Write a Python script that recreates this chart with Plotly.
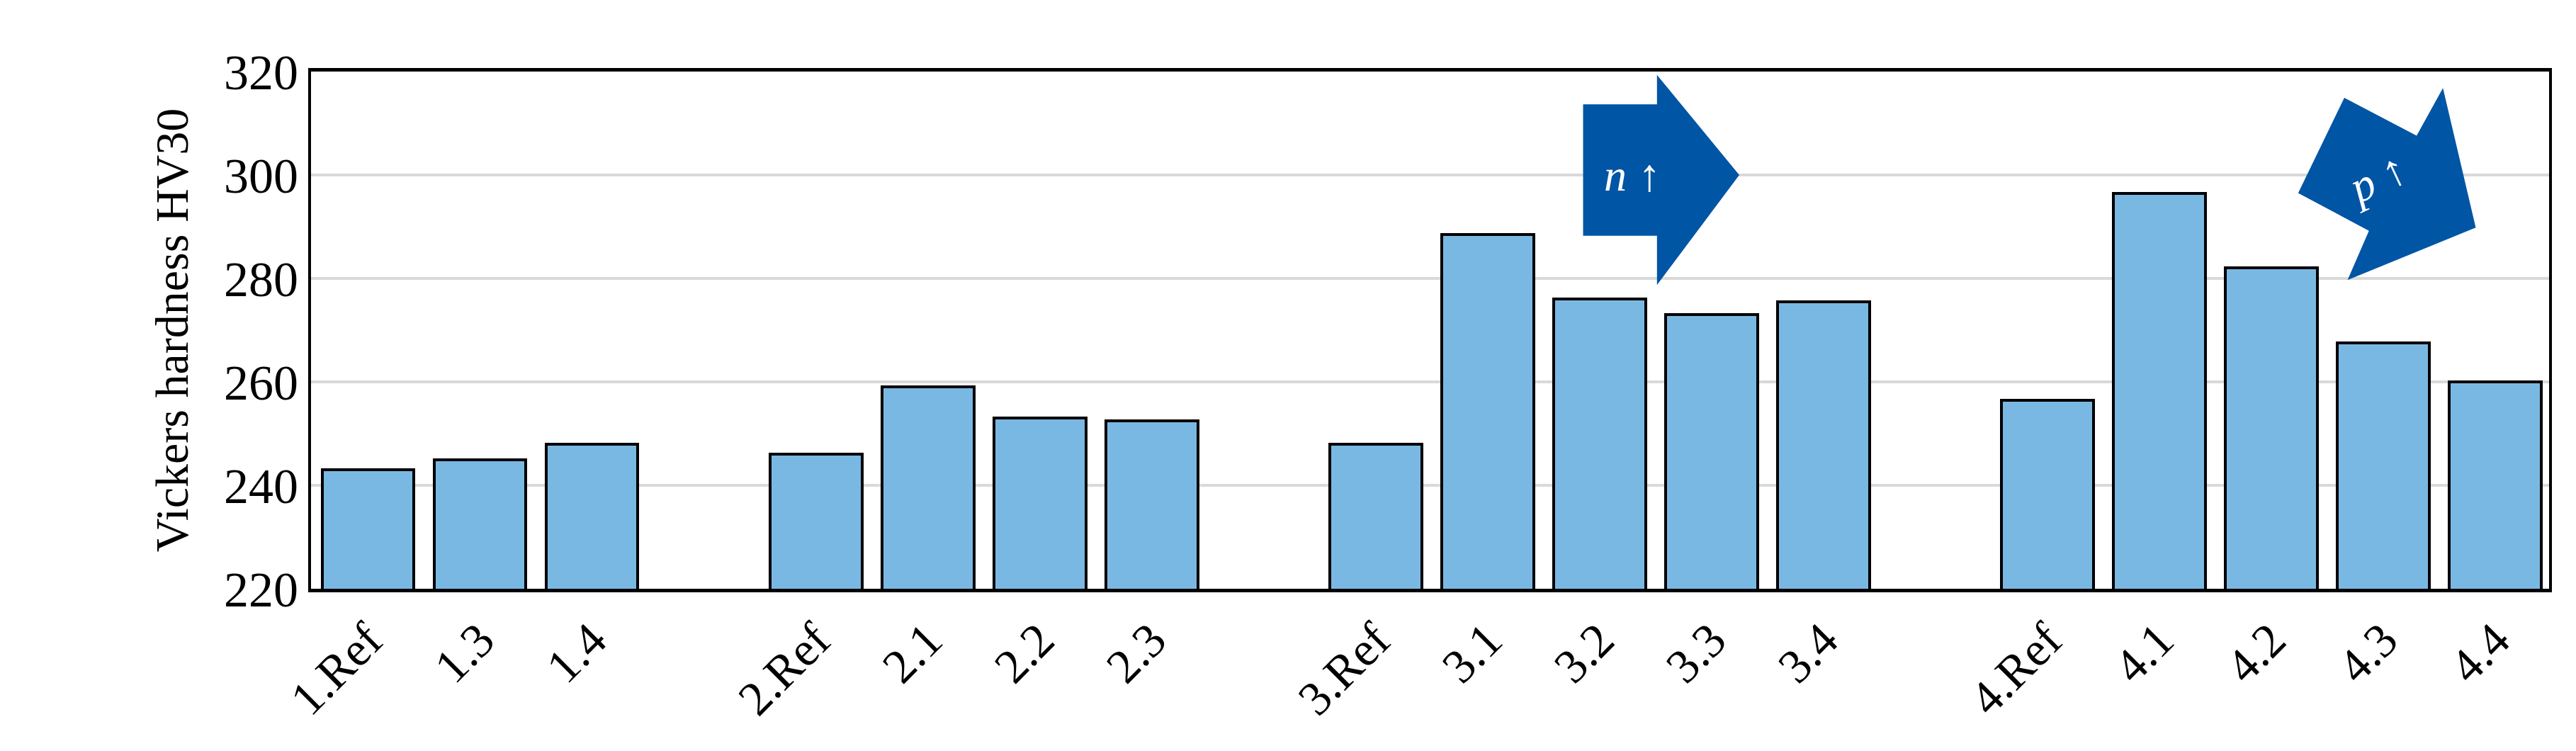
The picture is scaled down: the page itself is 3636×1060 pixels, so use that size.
import plotly.graph_objects as go

labels = ["1.Ref","1.3","1.4","2.Ref","2.1","2.2","2.3","3.Ref","3.1","3.2","3.3","3.4",
          "4.Ref","4.1","4.2","4.3","4.4"]
slots = [0,1,2,4,5,6,7,9,10,11,12,13,15,16,17,18,19]
values = [243,245,248,246,259,253,252.5,248,288.5,276,273,275.5,256.5,296.5,282,267.5,260]
yticks = [220,240,260,280,300,320]

font = "Liberation Serif"
fig = go.Figure(go.Bar(x=slots, y=values, width=0.82,
                       marker=dict(color="#7ab8e4", line=dict(color="black", width=4))))

def px2x(p): return (p-221)/68.1
def px2y(p): return 320-(p-40)/3.15

n_pts = [(960,60),(1005,60),(1005,42),(1055,103),(1005,170),(1005,140),(960,140)]
p_pts = [(1395,114),(1423,56),(1467,79),(1483,50),(1503,135),(1425,167),(1438,137)]
for pts in (n_pts, p_pts):
    path = "M " + " L ".join(f"{px2x(a):.3f},{px2y(b):.3f}" for a,b in pts) + " Z"
    fig.add_shape(type="path", path=path, xref="x", yref="y",
                  fillcolor="#0055a5", line=dict(width=0), layer="above")

fig.add_annotation(x=px2x(990), y=px2y(103), text="<i>n</i> ↑", showarrow=False,
                   font=dict(family=font, size=64, color="white"))
fig.add_annotation(x=px2x(1443), y=px2y(105), text="<i>p</i> ↑", showarrow=False,
                   textangle=-25, font=dict(family=font, size=64, color="white"))

fig.update_layout(
    width=3636, height=1060, plot_bgcolor="white", paper_bgcolor="white",
    margin=dict(l=431, r=46, t=93, b=237), showlegend=False, bargap=0,
    font=dict(family=font, color="black"),
)
fig.update_xaxes(range=[-0.51,19.48], tickvals=slots, ticktext=labels, tickangle=-45,
                 tickfont=dict(size=68), showline=True, linecolor="black", linewidth=5,
                 mirror=True, showgrid=False, ticks="")
fig.update_yaxes(range=[220,320], tickvals=yticks, tickfont=dict(size=70),
                 showline=True, linecolor="black", linewidth=4, mirror=True,
                 gridcolor="#d9d9d9", gridwidth=4, zeroline=False, ticks="",
                 title=dict(text="Vickers hardness HV30", font=dict(size=66), standoff=30))
fig.write_html("out.html")
